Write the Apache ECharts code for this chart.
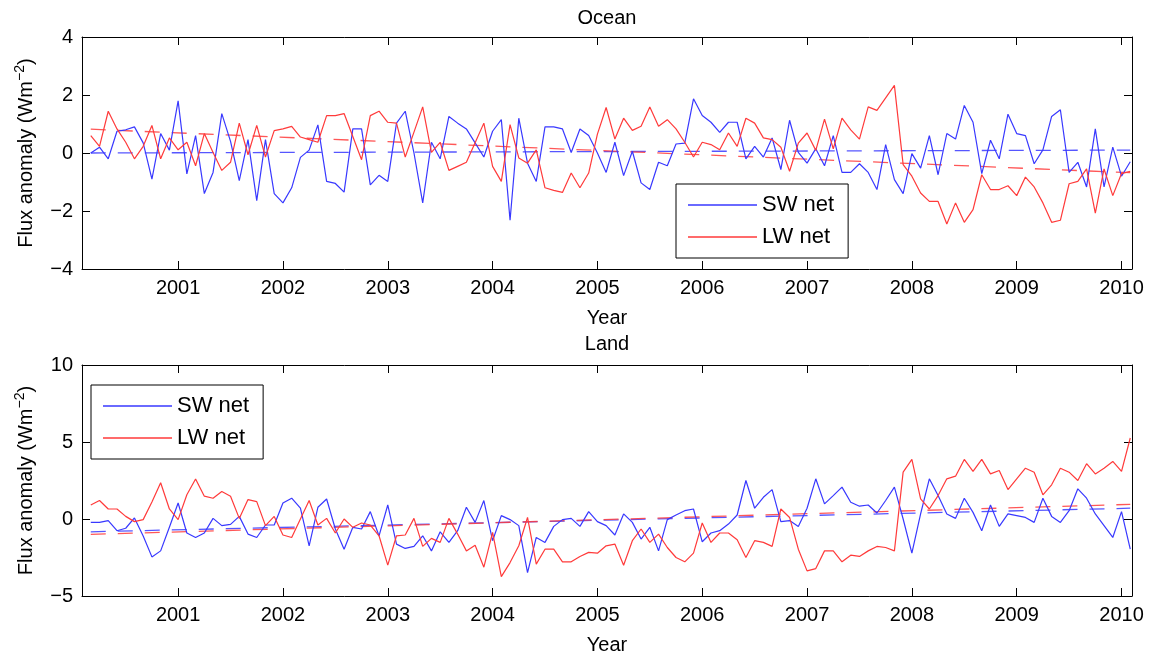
<!DOCTYPE html>
<html>
<head>
<meta charset="utf-8">
<script src="https://cdn.jsdelivr.net/npm/echarts@6/dist/echarts.min.js"></script>
<style>
  html, body { margin: 0; padding: 0; background: #fff; }
  #chart { width: 1154px; height: 657px; }
</style>
</head>
<body>
<div id="chart"></div>
<script>
// monthly anomalies, Mar 2000 .. Feb 2010
const months = []
for (let i = 0; i < 120; i++) months.push(2000 + (2 + i) / 12)

const yearTicks = [2001, 2002, 2003, 2004, 2005, 2006, 2007, 2008, 2009, 2010]

// Ocean
const oceanSW = [
  0.0, 0.2, -0.2, 0.75, 0.8, 0.9, 0.35, -0.9, 0.67, 0.1, 1.8, -0.72,
  0.6, -1.4, -0.67, 1.36, 0.4, -0.95, 0.46, -1.64, 0.46, -1.4, -1.72, -1.2,
  -0.15, 0.1, 0.97, -0.98, -1.05, -1.35, 0.83, 0.83, -1.1, -0.77, -0.98, 1.03,
  1.44, 0.0, -1.72, 0.37, -0.2, 1.26, 1.03, 0.83, 0.35, -0.14, 0.75, 1.15,
  -2.32, 1.2, -0.35, -0.98, 0.9, 0.9, 0.83, 0.02, 0.83, 0.6, 0.0, -0.67,
  0.37, -0.78, 0.06, -1.03, -1.26, -0.32, -0.44, 0.31, 0.34, 1.87, 1.29, 1.06,
  0.71, 1.06, 1.06, -0.2, 0.23, -0.14, 0.52, -0.57, 1.13, 0.02, -0.35, 0.15,
  -0.44, 0.6, -0.67, -0.67, -0.37, -0.67, -1.26, 0.29, -0.92, -1.4, -0.02, -0.52,
  0.6, -0.75, 0.67, 0.48, 1.64, 1.06, -0.71, 0.44, -0.2, 1.34, 0.67, 0.6,
  -0.37, 0.11, 1.26, 1.49, -0.67, -0.32, -1.17, 0.83, -1.17, 0.2, -0.8, -0.3
]
const oceanLW = [
  0.6, 0.23, 1.44, 0.83, 0.37, -0.2, 0.23, 0.95, -0.2, 0.52, 0.11, 0.37,
  -0.44, 0.67, 0.02, -0.6, -0.32, 1.03, -0.06, 0.95, -0.14, 0.77, 0.83, 0.92,
  0.55, 0.46, 0.37, 1.29, 1.29, 1.36, 0.57, -0.23, 1.29, 1.44, 1.06, 1.03,
  -0.14, 0.72, 1.59, 0.02, 0.37, -0.6, -0.46, -0.32, 0.35, 1.03, -0.46, -0.98,
  0.98, -0.17, -0.35, 0.11, -1.2, -1.29, -1.36, -0.69, -1.2, -0.69, 0.65, 1.57,
  0.48, 1.2, 0.78, 0.92, 1.59, 0.92, 1.15, 0.83, 0.37, -0.14, 0.37, 0.29,
  0.11, 0.69, 0.23, 1.2, 1.03, 0.52, 0.46, 0.2, -0.63, 0.34, 0.69, 0.09,
  1.17, 0.14, 1.2, 0.8, 0.48, 1.59, 1.47, 1.9, 2.33, -0.4, -0.8, -1.38,
  -1.67, -1.67, -2.45, -1.72, -2.39, -1.95, -0.75, -1.26, -1.26, -1.13, -1.47, -0.83,
  -1.17, -1.72, -2.39, -2.32, -1.06, -0.98, -0.55, -2.07, -0.55, -1.47, -0.71, -0.63
]
// Land
const landSW = [
  -0.22, -0.22, -0.1, -0.76, -0.6, 0.07, -1.1, -2.46, -2.07, -0.54, 1.04, -0.91,
  -1.2, -0.91, 0.04, -0.43, -0.35, 0.17, -0.98, -1.2, -0.39, -0.39, 1.04, 1.35,
  0.7, -1.74, 0.76, 1.3, -0.65, -1.96, -0.54, -0.65, 0.48, -1.1, 0.91, -1.63,
  -1.91, -1.78, -1.09, -2.07, -0.83, -1.52, -0.76, 0.76, -0.22, 1.2, -1.41, 0.22,
  -0.04, -0.43, -3.48, -1.2, -1.52, -0.48, -0.04, 0.04, -0.48, 0.48, -0.17, -0.43,
  -1.04, 0.33, -0.22, -1.3, -0.54, -2.07, -0.04, 0.26, 0.54, 0.65, -1.48, -0.91,
  -0.76, -0.33, 0.26, 2.5, 0.7, 1.41, 1.91, -0.17, -0.1, -0.48, 0.7, 2.61,
  0.98, 1.52, 2.07, 1.09, 0.83, 0.91, 0.39, 1.2, 2.07, 0.0, -2.22, 0.33,
  2.61, 1.52, 0.33, 0.04, 1.35, 0.43, -0.76, 0.91, -0.48, 0.33, 0.22, 0.1,
  -0.22, 1.35, 0.17, -0.22, 0.54, 1.96, 1.35, 0.33, -0.43, -1.2, 0.48, -1.96
]
const landLW = [
  0.91, 1.2, 0.65, 0.65, 0.17, -0.17, -0.04, 1.1, 2.35, 0.65, -0.04, 1.57,
  2.6, 1.48, 1.35, 1.78, 1.48, 0.04, 1.26, 1.13, -0.43, 0.17, -1.04, -1.2,
  0.0, 1.2, -0.39, 0.04, -0.91, 0.0, -0.54, -0.26, -0.39, -1.09, -3.0, -1.09,
  -1.04, 0.04, -1.78, -1.26, -1.52, 0.04, -0.98, -2.07, -1.7, -3.13, -0.87, -3.74,
  -2.83, -1.74, 0.1, -2.93, -1.96, -1.96, -2.78, -2.78, -2.43, -2.17, -2.22, -1.74,
  -1.63, -3.0, -1.41, -0.65, -1.52, -0.98, -1.85, -2.5, -2.78, -2.22, -0.26, -1.52,
  -0.91, -0.91, -1.35, -2.5, -1.41, -1.52, -1.78, 0.65, 0.1, -1.96, -3.37, -3.22,
  -2.07, -2.07, -2.78, -2.35, -2.43, -2.07, -1.78, -1.85, -2.07, 3.04, 3.87, 1.3,
  0.65, 1.52, 2.61, 2.78, 3.87, 3.09, 3.87, 2.93, 3.15, 1.91, 2.61, 3.3,
  3.04, 1.57, 2.22, 3.3, 3.04, 2.5, 3.59, 2.93, 3.3, 3.74, 3.09, 5.26
]
// linear trends, value at first and last month
const oceanSWTrend = [0.0, 0.1]
const oceanLWTrend = [0.82, -0.68]
const landSWTrend = [-0.83, 0.7]
const landLWTrend = [-1.0, 0.95]

const BLUE = '#3838ff'
const RED = '#ff3a3a'
const FONT = 'Liberation Sans, Arial, sans-serif'

function pairs (ys) {
  return ys.map((v, i) => [months[i], v])
}
function ends (tr) {
  return [[months[0], tr[0]], [months[months.length - 1], tr[1]]]
}
function minus (v) {
  return String(v).replace('-', '\u2212')
}

function xAx (grid, pos) {
  const bottom = pos === 'bottom'
  return {
    type: 'value',
    gridIndex: grid,
    position: pos,
    min: 2000.083,
    max: 2010.1,
    name: bottom ? 'Year' : '',
    nameLocation: 'middle',
    nameGap: 39,
    nameTextStyle: {color: '#000', fontSize: 20, fontFamily: FONT},
    axisLine: {onZero: false, lineStyle: {color: '#000', width: 1}},
    axisTick: {show: true, inside: true, length: 8, customValues: yearTicks, lineStyle: {color: '#000'}},
    axisLabel: {
      show: bottom,
      customValues: yearTicks,
      margin: 9,
      color: '#000',
      fontSize: 20,
      fontFamily: FONT,
      formatter: function (v) { return String(Math.round(v)) }
    },
    splitLine: {show: false}
  }
}
function yAx (grid, pos, min, max, step) {
  const left = pos === 'left'
  return {
    type: 'value',
    gridIndex: grid,
    position: pos,
    min: min,
    max: max,
    interval: step,
    name: left ? 'Flux anomaly (Wm{sup|\u22122})' : '',
    nameLocation: 'middle',
    nameGap: 43,
    nameTextStyle: {
      color: '#000',
      fontSize: 20,
      fontFamily: FONT,
      lineHeight: 26,
      rich: {sup: {fontSize: 14, fontFamily: FONT, color: '#000', verticalAlign: 'top', lineHeight: 14}}
    },
    axisLine: {onZero: false, lineStyle: {color: '#000', width: 1}},
    axisTick: {show: true, inside: true, length: 8, lineStyle: {color: '#000'}},
    axisLabel: {show: left, margin: 9, color: '#000', fontSize: 20, fontFamily: FONT, formatter: minus},
    splitLine: {show: false}
  }
}
function dataLine (name, ys, color, xi, yi) {
  return {
    name: name,
    type: 'line',
    xAxisIndex: xi,
    yAxisIndex: yi,
    data: pairs(ys),
    symbol: 'none',
    z: 3,
    lineStyle: {color: color, width: 1.2},
    itemStyle: {color: color}
  }
}
function trendLine (name, tr, color, xi, yi) {
  return {
    name: name,
    type: 'line',
    xAxisIndex: xi,
    yAxisIndex: yi,
    data: ends(tr),
    symbol: 'none',
    z: 2,
    lineStyle: {color: color, width: 1.3, type: [15, 12], opacity: 0.85},
    itemStyle: {color: color}
  }
}
function legendBox (left, top) {
  return {
    data: ['SW net', 'LW net'],
    orient: 'vertical',
    left: left,
    top: top,
    padding: [10, 14, 10, 12],
    itemGap: 10,
    icon: 'rect',
    itemWidth: 69,
    itemHeight: 1.5,
    itemTextGap: 10,
    borderColor: '#000',
    borderWidth: 1,
    backgroundColor: '#fff',
    selectedMode: false,
    textStyle: {color: '#000', fontSize: 22, fontFamily: FONT, lineHeight: 22}
  }
}

const option = {
  animation: false,
  backgroundColor: '#fff',
  title: [
    {text: 'Ocean', left: 607, top: 8, textAlign: 'center', padding: 0,
      textStyle: {color: '#000', fontSize: 20, fontWeight: 'normal', fontFamily: FONT}},
    {text: 'Land', left: 607, top: 334, textAlign: 'center', padding: 0,
      textStyle: {color: '#000', fontSize: 20, fontWeight: 'normal', fontFamily: FONT}}
  ],
  legend: [legendBox(676, 184), legendBox(91, 385)],
  grid: [
    {left: 82, top: 37, width: 1050, height: 232, containLabel: false, outerBoundsMode: 'none'},
    {left: 82, top: 365, width: 1050, height: 231, containLabel: false, outerBoundsMode: 'none'}
  ],
  xAxis: [xAx(0, 'bottom'), xAx(0, 'top'), xAx(1, 'bottom'), xAx(1, 'top')],
  yAxis: [yAx(0, 'left', -4, 4, 2), yAx(0, 'right', -4, 4, 2), yAx(1, 'left', -5, 10, 5), yAx(1, 'right', -5, 10, 5)],
  series: [
    trendLine('SW trend', oceanSWTrend, BLUE, 0, 0),
    trendLine('LW trend', oceanLWTrend, RED, 0, 0),
    dataLine('SW net', oceanSW, BLUE, 0, 0),
    dataLine('LW net', oceanLW, RED, 0, 0),
    trendLine('SW trend', landSWTrend, BLUE, 2, 2),
    trendLine('LW trend', landLWTrend, RED, 2, 2),
    dataLine('SW net', landSW, BLUE, 2, 2),
    dataLine('LW net', landLW, RED, 2, 2)
  ]
}

const myChart = echarts.init(document.getElementById('chart'))
myChart.setOption(option)
</script>
</body>
</html>
